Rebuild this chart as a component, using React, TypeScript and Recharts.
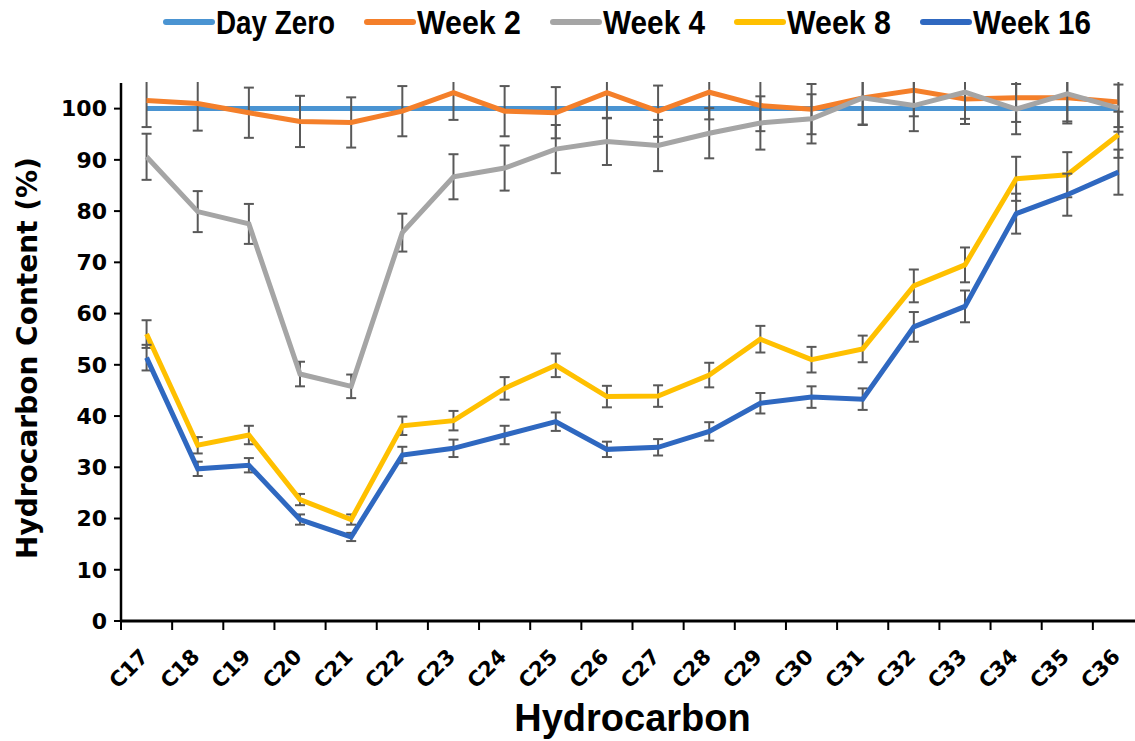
import { LineChart, Line, XAxis, YAxis, Legend, ErrorBar } from "recharts";

const categories = ["C17", "C18", "C19", "C20", "C21", "C22", "C23", "C24", "C25", "C26", "C27", "C28", "C29", "C30", "C31", "C32", "C33", "C34", "C35", "C36"];

const dayZero = [100, 100, 100, 100, 100, 100, 100, 100, 100, 100, 100, 100, 100, 100, 100, 100, 100, 100, 100, 100];

const week2 = [101.6, 101.0, 99.2, 97.5, 97.3, 99.5, 103.1, 99.5, 99.2, 103.1, 99.5, 103.2, 100.6, 99.9, 102.1, 103.6, 101.9, 102.1, 102.1, 101.3];
const week2Err = [5.2, 5.3, 4.9, 5.0, 4.9, 4.9, 5.3, 4.9, 5.0, 5.0, 5.0, 5.3, 5.0, 4.9, 5.2, 5.1, 4.9, 4.7, 5.0, 4.9];

const week4 = [90.6, 79.9, 77.5, 48.2, 45.8, 75.8, 86.7, 88.4, 92.1, 93.6, 92.8, 95.2, 97.2, 98.0, 102.1, 100.6, 103.2, 99.9, 102.9, 100.1];
const week4Err = [4.5, 4.0, 3.9, 2.4, 2.3, 3.7, 4.4, 4.4, 4.7, 4.6, 5.0, 4.9, 5.2, 4.8, 5.3, 5.0, 5.2, 4.9, 5.4, 4.6];

const week8 = [56.0, 34.3, 36.3, 23.7, 19.8, 38.1, 39.1, 45.4, 49.9, 43.8, 43.9, 48.0, 55.0, 51.0, 53.1, 65.4, 69.5, 86.3, 87.1, 94.9];
const week8Err = [2.7, 1.6, 1.8, 1.1, 1.0, 1.8, 1.9, 2.2, 2.3, 2.1, 2.1, 2.4, 2.6, 2.5, 2.6, 3.2, 3.4, 4.3, 4.4, 4.5];

const week16 = [51.4, 29.7, 30.4, 19.8, 16.4, 32.4, 33.7, 36.3, 38.9, 33.5, 33.9, 37.0, 42.5, 43.7, 43.3, 57.4, 61.4, 79.5, 83.2, 87.6];
const week16Err = [2.5, 1.4, 1.4, 1.0, 0.8, 1.6, 1.7, 1.8, 1.8, 1.5, 1.6, 1.8, 2.0, 2.1, 2.1, 2.9, 3.1, 3.9, 4.1, 4.4];

const yTicks = [0, 10, 20, 30, 40, 50, 60, 70, 80, 90, 100];

const series = [
  { key: "dayZero", name: "Day Zero", color: "#4a94d2", textW: 119 },
  { key: "week2", name: "Week 2", color: "#f47f2a", err: "week2Err", textW: 104 },
  { key: "week4", name: "Week 4", color: "#a5a5a5", err: "week4Err", textW: 102 },
  { key: "week8", name: "Week 8", color: "#ffc000", err: "week8Err", textW: 104 },
  { key: "week16", name: "Week 16", color: "#2f68c0", err: "week16Err", textW: 118 },
];

const data = categories.map((name, i) => ({
  name,
  dayZero: dayZero[i],
  week2: week2[i],
  week2Err: week2Err[i],
  week4: week4[i],
  week4Err: week4Err[i],
  week8: week8[i],
  week8Err: week8Err[i],
  week16: week16[i],
  week16Err: week16Err[i],
}));

const WIDE = "'DejaVu Sans', Verdana, sans-serif";
const ARIAL = "'Liberation Sans', Arial, sans-serif";

const CHART_W = 1160;
const CHART_H = 741;
const Y_AXIS_W = 121;
const RIGHT = 16;
const TOP = 83; // top edge of the plot area
const BAND = (CHART_W - Y_AXIS_W - RIGHT) / categories.length;

function CategoryTick(props: any) {
  const { x, y, payload } = props;
  const half = BAND / 2;
  const tx = x + 3;
  const ty = y + 28;
  return (
    <g>
      <line x1={x - half} x2={x - half} y1={y - 9} y2={y} stroke="#000" strokeWidth={2} />
      <text
        x={tx}
        y={ty}
        transform={`rotate(-45, ${tx}, ${ty})`}
        textAnchor="end"
        fontFamily={WIDE}
        fontWeight="bold"
        fontSize={21}
        fill="#000"
      >
        {payload.value}
      </text>
    </g>
  );
}

// the legend box also covers the band above the plot, so error bars stop at the plot top
function renderLegend() {
  return (
    <div style={{ height: TOP - 1, background: "#fff" }}>
      <div style={{ display: "flex", alignItems: "center", height: 44, paddingLeft: 163 }}>
        {series.map((s) => (
          <div key={s.key} style={{ display: "flex", alignItems: "center", marginRight: 26 }}>
            <svg width={52} height={10}>
              <line x1={3} x2={49} y1={5} y2={5} stroke={s.color} strokeWidth={6} strokeLinecap="round" />
            </svg>
            <svg width={s.textW + 4} height={42} overflow="visible">
              <text
                x={1}
                y={33}
                textLength={s.textW}
                lengthAdjust="spacingAndGlyphs"
                fontFamily={ARIAL}
                fontWeight="bold"
                fontSize={33}
                fill="#000"
              >
                {s.name}
              </text>
            </svg>
          </div>
        ))}
      </div>
    </div>
  );
}

export default function App() {
  return (
    <div
      style={{
        position: "absolute",
        left: 0,
        top: 0,
        width: 1135,
        height: CHART_H,
        overflow: "hidden",
        background: "#fff",
      }}
    >
      <LineChart
        width={CHART_W}
        height={CHART_H}
        data={data}
        margin={{ top: 1, right: RIGHT, bottom: 0, left: 0 }}
      >
        <XAxis
          dataKey="name"
          scale="band"
          height={120}
          axisLine={{ stroke: "#000", strokeWidth: 3 }}
          tickLine={false}
          tickSize={9}
          tickMargin={0}
          interval={0}
          tick={<CategoryTick />}
          label={{
            value: "Hydrocarbon",
            position: "insideBottom",
            offset: 10,
            style: { fontFamily: ARIAL, fontWeight: "bold", fontSize: 38, fill: "#000" },
          }}
        />
        <YAxis
          width={Y_AXIS_W}
          domain={[0, 105]}
          allowDataOverflow
          ticks={yTicks}
          interval={0}
          axisLine={{ stroke: "#000", strokeWidth: 2.5 }}
          tickLine={{ stroke: "#000", strokeWidth: 2 }}
          tickSize={7}
          tickMargin={7}
          tick={{ fontFamily: WIDE, fontWeight: "bold", fontSize: 22, fill: "#000" }}
          label={{
            value: "Hydrocarbon Content (%)",
            angle: -90,
            position: "insideLeft",
            offset: 27,
            dy: 6,
            style: { textAnchor: "middle", fontFamily: WIDE, fontWeight: "bold", fontSize: 28, fill: "#000" },
          }}
        />
        {series.map((s) => (
          <Line
            key={s.key}
            dataKey={s.key}
            name={s.name}
            type="linear"
            stroke={s.color}
            strokeWidth={5}
            dot={false}
            activeDot={false}
            isAnimationActive={false}
          >
            {s.err && (
              <ErrorBar dataKey={s.err} direction="y" width={5} strokeWidth={2} stroke="#595959" />
            )}
          </Line>
        ))}
        <Legend
          verticalAlign="top"
          content={renderLegend}
          wrapperStyle={{ top: 0, left: 0, width: CHART_W }}
        />
      </LineChart>
    </div>
  );
}
